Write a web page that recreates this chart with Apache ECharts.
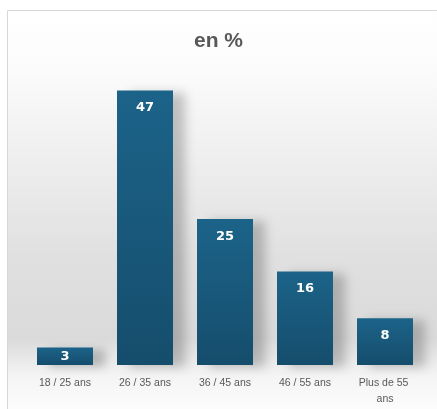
<!DOCTYPE html>
<html><head><meta charset="utf-8">
<script src="https://cdn.jsdelivr.net/npm/echarts@6/dist/echarts.min.js"></script>
<style>html,body{margin:0;padding:0;background:#fff}#c{width:437px;height:409px}</style>
</head><body><div id="c"></div>
<script>
const categories = ['18 / 25 ans', '26 / 35 ans', '36 / 45 ans', '46 / 55 ans', 'Plus de 55 ans'];
const values = [3, 47, 25, 16, 8];
const titleText = 'en %';

const chart = echarts.init(document.getElementById('c'));
chart.setOption({
  backgroundColor: '#ffffff',
  animation: false,
  graphic: [{
    type: 'rect', z: -10, silent: true,
    shape: { x: 7.5, y: 10.5, width: 440, height: 410 },
    style: {
      fill: new echarts.graphic.LinearGradient(0, 0, 0, 1, [
        { offset: 0, color: '#ffffff' },
        { offset: 0.15, color: '#fbfbfb' },
        { offset: 0.6, color: '#e0e0e0' },
        { offset: 0.8, color: '#dadada' },
        { offset: 0.89, color: '#f4f4f4' },
        { offset: 1, color: '#ffffff' }
      ]),
      stroke: '#d8d8d8', lineWidth: 1
    }
  }],
  title: {
    text: titleText, left: 'center', top: 26,
    textStyle: { color: '#595959', fontSize: 21, fontWeight: 'bold', fontFamily: 'Liberation Sans' }
  },
  grid: { left: 25, right: 12, top: 73, bottom: 44 },
  xAxis: {
    type: 'category', data: categories,
    axisLine: { show: false }, axisTick: { show: false },
    axisLabel: {
      color: '#595959', fontSize: 10.5, fontFamily: 'Liberation Sans', margin: 10,
      width: 64, overflow: 'break', lineHeight: 16, interval: 0
    }
  },
  yAxis: { type: 'value', min: 0, max: 50, show: false, splitLine: { show: false } },
  series: [{
    type: 'bar',
    data: values.map(v => v < 5 ? { value: v, label: { position: 'inside' } } : v),
    barCategoryGap: '30%',
    itemStyle: {
      color: new echarts.graphic.LinearGradient(0, 0, 0, 1, [
        { offset: 0, color: '#1c6389' },
        { offset: 1, color: '#154d6c' }
      ]),
      shadowColor: 'rgba(0,0,0,0.22)', shadowBlur: 10, shadowOffsetX: 12, shadowOffsetY: 2
    },
    label: {
      show: true, position: 'insideTop', distance: 11,
      color: '#ffffff', fontSize: 13, fontWeight: 'bold', fontFamily: 'DejaVu Sans'
    }
  }]
});
</script></body></html>
